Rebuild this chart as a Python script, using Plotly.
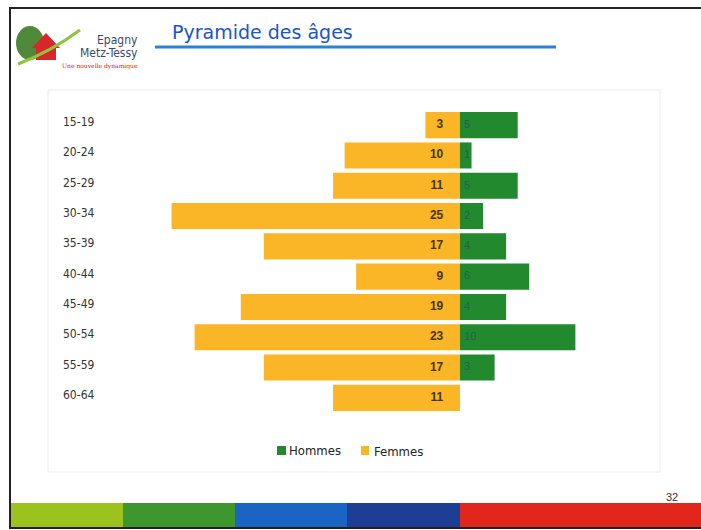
import plotly.graph_objects as go

# tranches d'age (du haut vers le bas)
tranches = ["15-19", "20-24", "25-29", "30-34", "35-39", "40-44", "45-49", "50-54", "55-59", "60-64"]
hommes = [5, 1, 5, 2, 4, 6, 4, 10, 3, 0]
femmes = [3, 10, 11, 25, 17, 9, 19, 23, 17, 11]

W, H = 701, 530
ML, MR, MT, MB = 160, 61, 110, 117
PW, PH = W - ML - MR, H - MT - MB
VERT = "#22892f"
ORANGE = "#fbb627"


def px(x):
    return (x - ML) / PW


def py(y):
    return (H - MB - y) / PH


def texte(x, y, s, size, color, family="DejaVu Sans Condensed", anchor="left"):
    fig.add_annotation(x=px(x), y=py(y), xref="paper", yref="paper", text=s, showarrow=False,
                       xanchor=anchor, yanchor="middle", font=dict(size=size, color=color, family=family))


fig = go.Figure()

fig.add_trace(go.Bar(
    y=tranches, x=hommes, name="Hommes", orientation="h",
    marker=dict(color=VERT, line=dict(width=0)),
    hoverinfo="x+y", showlegend=False,
))
fig.add_trace(go.Bar(
    y=tranches, x=[-v for v in femmes], name="Femmes", orientation="h",
    marker=dict(color=ORANGE, line=dict(width=0)),
    hovertext=[f"{t}: {v}" for t, v in zip(tranches, femmes)], hoverinfo="text", showlegend=False,
))
# etiquettes des valeurs pres de l'axe central
fig.add_trace(go.Scatter(
    y=tranches, x=[-1.45] * len(femmes), mode="text", text=[str(v) for v in femmes],
    textposition="middle left", hoverinfo="skip", showlegend=False,
    textfont=dict(color="#4a3410", size=12, family="Liberation Sans", weight="bold"),
))
fig.add_trace(go.Scatter(
    y=tranches, x=[0.35] * len(hommes), mode="text", text=[str(v) if v else "" for v in hommes],
    textposition="middle right", hoverinfo="skip", showlegend=False,
    textfont=dict(color="#2e5a4a", size=11, family="Liberation Sans"),
))

# etiquettes des tranches, alignees a gauche
for t in tranches:
    fig.add_annotation(x=px(61), xref="paper", y=t, yref="y", text=t, showarrow=False, yshift=3,
                       xanchor="left", font=dict(size=12, color="#333333", family="DejaVu Sans Condensed"))

shapes = []
# cadre de la diapo
shapes.append(dict(type="rect", xref="paper", yref="paper", x0=px(10), x1=px(703), y0=py(528), y1=py(8),
                   line=dict(color="#222222", width=2)))
# cadre du graphique
shapes.append(dict(type="rect", xref="paper", yref="paper", x0=px(48), x1=px(660), y0=py(472), y1=py(90),
                   line=dict(color="#ececec", width=1)))
# soulignement du titre
shapes.append(dict(type="line", xref="paper", yref="paper", x0=px(155), x1=px(556), y0=py(47), y1=py(47),
                   line=dict(color="#2f7fd6", width=3)))
# bandeau de couleurs en bas
bandes = [(11, 123, "#9cc21f"), (123, 235, "#3d962e"), (235, 347, "#1a64c4"),
          (347, 460, "#1d3e94"), (460, 703, "#e1261c")]
for x0, x1, c in bandes:
    shapes.append(dict(type="rect", xref="paper", yref="paper", x0=px(x0), x1=px(x1), y0=py(527), y1=py(503),
                       fillcolor=c, line=dict(width=0)))
# logo simplifie
shapes.append(dict(type="circle", xref="paper", yref="paper", x0=px(16), x1=px(44), y0=py(60), y1=py(26),
                   fillcolor="#4f8a3a", line=dict(width=0)))
shapes.append(dict(type="path", xref="paper", yref="paper",
                   path=f"M {px(32)},{py(48)} L {px(46)},{py(33)} L {px(60)},{py(48)} Z",
                   fillcolor="#d9262b", line=dict(width=0)))
shapes.append(dict(type="rect", xref="paper", yref="paper", x0=px(36), x1=px(56), y0=py(60), y1=py(48),
                   fillcolor="#d9262b", line=dict(width=0)))
shapes.append(dict(type="path", xref="paper", yref="paper",
                   path=f"M {px(18)},{py(64)} Q {px(50)},{py(52)} {px(80)},{py(30)}",
                   line=dict(color="#8cc63f", width=3)))
# legende dessinee a la main (carres serres comme dans l'original)
shapes.append(dict(type="rect", xref="paper", yref="paper", x0=px(277), x1=px(286), y0=py(455), y1=py(446),
                   fillcolor=VERT, line=dict(width=0)))
shapes.append(dict(type="rect", xref="paper", yref="paper", x0=px(361), x1=px(369), y0=py(455), y1=py(446),
                   fillcolor=ORANGE, line=dict(width=0)))

fig.update_layout(shapes=shapes)

texte(287, 450, "Hommes", 13, "#222222")
texte(372, 451, "Femmes", 13, "#222222")
texte(140, 40, "Epagny", 12, "#3a4a6a", anchor="right")
texte(140, 53, "Metz-Tessy", 12, "#3a4a6a", anchor="right")
texte(100, 66, "Une nouvelle dynamique", 6, "#c0262b", family="DejaVu Serif", anchor="center")
texte(170, 32, "Pyramide des âges", 19, "#1b55c8", family="DejaVu Sans")
texte(680, 497, "32", 11, "#333333", family="Liberation Sans", anchor="right")

fig.update_layout(
    width=W, height=H,
    margin=dict(l=ML, r=MR, t=MT, b=MB),
    barmode="relative", bargap=0.14,
    plot_bgcolor="white", paper_bgcolor="white",
    xaxis=dict(range=[-(460 - ML) / PW * 41.6, (ML + PW - 460) / PW * 41.6],
               showgrid=False, zeroline=False, showticklabels=False, fixedrange=True),
    yaxis=dict(autorange="reversed", showgrid=False, zeroline=False, showticklabels=False, fixedrange=True),
    showlegend=False,
)

fig.write_html("out.html", config={"displayModeBar": False})

# pas de marge autour de la page
with open("out.html") as f:
    html = f.read()
html = html.replace("<body>", '<body style="margin:0;padding:0">', 1)
with open("out.html", "w") as f:
    f.write(html)
